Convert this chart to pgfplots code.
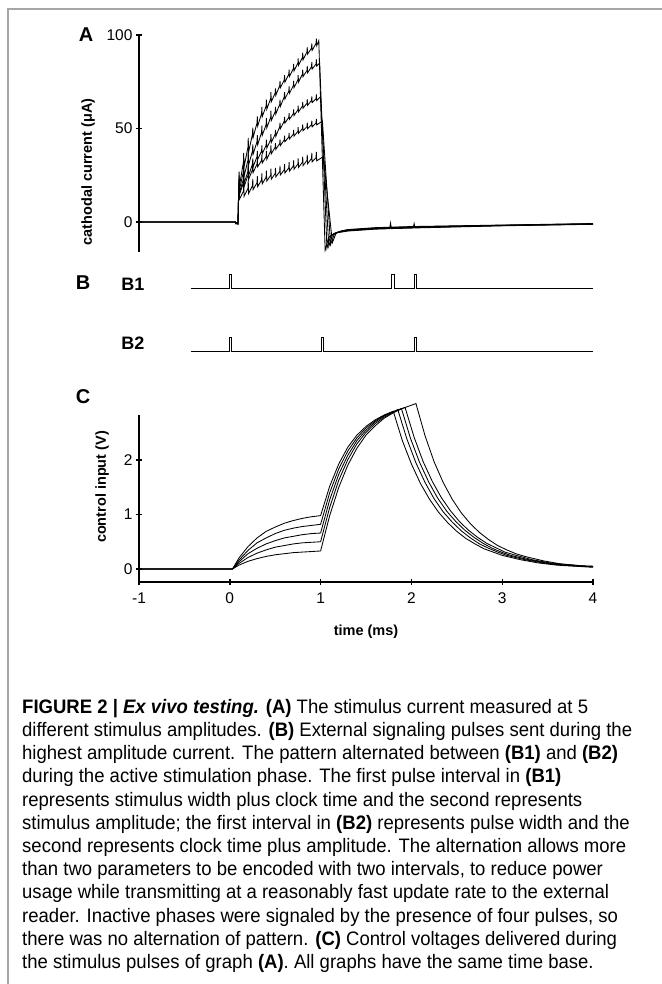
\documentclass[border=0pt]{standalone}
\usepackage{fontspec}
\setmainfont{Liberation Sans}
\newfontfamily\capfont[FakeStretch=0.95]{Liberation Sans}
\usepackage{pgfplots}
\pgfplotsset{compat=1.18}

\pgfplotsset{
  panel/.style={scale only axis, width=454bp, xmin=-1, xmax=4, clip=false,
    tick align=outside, major tick length=6bp,
    every tick/.style={black, line width=1.4bp},
    tick label style={font=\fontsize{15.5bp}{15.5bp}\selectfont},
    /pgf/number format/assume math mode=true},
  plainline/.style={axis line style={-, line width=1.8bp}},
  trace/.style={black, line width=0.85bp},
}

\begin{document}
\begin{tikzpicture}
\path[use as bounding box] (0,0) rectangle (662bp,984bp);
% frame of the figure
\draw[gray!70, line width=1.1bp] (8bp,0) -- (8bp,975bp) -- (662bp,975bp);

% ---- A: cathodal current
\begin{axis}[panel, at={(139bp,732bp)}, anchor=south west, height=217bp,
    ymin=-16, ymax=100, axis x line=none, axis y line=left, plainline,
    ytick={0,50,100}]
  \addplot[trace] coordinates {
    (-1,0)(0.06,0)(0.065,-1)(0.09,-1)(0.097,17)
    (0.100,22)(0.103,27)(0.107,19.5)(0.150,32)(0.153,37)(0.157,29.5)(0.200,40)(0.203,45)(0.207,37.5)
    (0.250,47)(0.253,50.5)(0.257,45.3)(0.300,53)(0.303,56.5)(0.307,51.3)(0.350,58)(0.353,61.5)(0.357,56.3)
    (0.400,62)(0.403,65.5)(0.407,60.3)(0.450,66)(0.453,69.5)(0.457,64.3)(0.500,69)(0.503,71.5)(0.507,67.8)
    (0.550,73)(0.553,75.5)(0.557,71.8)(0.600,76)(0.603,78.5)(0.607,74.8)(0.650,79)(0.653,81.5)(0.657,77.8)
    (0.700,82)(0.703,84.5)(0.707,80.8)(0.750,85)(0.753,87.5)(0.757,83.8)(0.800,88)(0.803,90.5)(0.807,86.8)
    (0.850,91)(0.853,93.5)(0.857,89.8)(0.900,93)(0.903,95.5)(0.907,91.8)(0.950,95.5)(0.953,98)(0.957,94.3)
    (0.98,97)
    (1.05,-15)(1.09,-8)(1.15,-6)(1.3,-4.8)(1.6,-3.8)(1.76,-3.55)(1.77,-0.5)(1.78,-3.5)
    (2.02,-3.2)(2.03,-0.8)(2.04,-3.15)(2.5,-2.6)(3,-2)(3.5,-1.6)(4,-1.2)};
  \addplot[trace] coordinates {
    (-1,0)(0.06,0)(0.09,-1)(0.097,16)
    (0.100,20)(0.103,25)(0.107,17.5)(0.150,27)(0.153,32)(0.157,24.5)(0.200,33)(0.203,38)(0.207,30.5)
    (0.250,38)(0.253,41.5)(0.257,36.3)(0.300,43)(0.303,46.5)(0.307,41.3)(0.350,48)(0.353,51.5)(0.357,46.3)
    (0.400,52)(0.403,55.5)(0.407,50.3)(0.450,56)(0.453,59.5)(0.457,54.3)(0.500,59)(0.503,61.5)(0.507,57.8)
    (0.550,63)(0.553,65.5)(0.557,61.8)(0.600,67)(0.603,69.5)(0.607,65.8)(0.650,70)(0.653,72.5)(0.657,68.8)
    (0.700,73)(0.703,75.5)(0.707,71.8)(0.750,76)(0.753,78.5)(0.757,74.8)(0.800,79)(0.803,81.5)(0.807,77.8)
    (0.850,81)(0.853,83.5)(0.857,79.8)(0.900,83)(0.903,85.5)(0.907,81.8)(0.950,84.5)(0.953,87)(0.957,83.3)
    (0.99,85)
    (1.07,-14)(1.11,-7.5)(1.17,-5.6)(1.3,-4.6)(1.6,-3.6)(2,-3)(2.5,-2.4)(3,-1.9)(3.5,-1.5)(4,-1.1)};
  \addplot[trace] coordinates {
    (-1,0)(0.06,0)(0.09,-1)(0.097,15)
    (0.100,18)(0.103,22.5)(0.107,15.8)(0.150,23)(0.153,27.5)(0.157,20.8)(0.200,27)(0.203,31.5)(0.207,24.8)
    (0.250,31)(0.253,34)(0.257,29.5)(0.300,35)(0.303,38)(0.307,33.5)(0.350,38)(0.353,41)(0.357,36.5)
    (0.400,41)(0.403,44)(0.407,39.5)(0.450,44)(0.453,47)(0.457,42.5)(0.500,47)(0.503,49.2)(0.507,45.9)
    (0.550,51)(0.553,53.2)(0.557,49.9)(0.600,54)(0.603,56.2)(0.607,52.9)(0.650,56)(0.653,58.2)(0.657,54.9)
    (0.700,58)(0.703,60.2)(0.707,56.9)(0.750,60)(0.753,62.2)(0.757,58.9)(0.800,62)(0.803,64.2)(0.807,60.9)
    (0.850,63.5)(0.853,65.7)(0.857,62.4)(0.900,65)(0.903,67.2)(0.907,63.9)(0.950,66)(0.953,68.2)(0.957,64.9)
    (1.00,67)
    (1.09,-13)(1.13,-7)(1.19,-5.3)(1.3,-4.4)(1.6,-3.4)(2,-2.8)(2.5,-2.3)(3,-1.8)(3.5,-1.4)(4,-1.0)};
  \addplot[trace] coordinates {
    (-1,0)(0.06,0)(0.09,-1)(0.097,14)
    (0.100,17)(0.103,21.5)(0.107,14.8)(0.150,21)(0.153,25.5)(0.157,18.8)(0.200,25)(0.203,29.5)(0.207,22.8)
    (0.250,28)(0.253,31)(0.257,26.5)(0.300,31)(0.303,34)(0.307,29.5)(0.350,33)(0.353,36)(0.357,31.5)
    (0.400,35)(0.403,38)(0.407,33.5)(0.450,38)(0.453,41)(0.457,36.5)(0.500,40)(0.503,42.2)(0.507,38.9)
    (0.550,42)(0.553,44.2)(0.557,40.9)(0.600,44)(0.603,46.2)(0.607,42.9)(0.650,45.5)(0.653,47.7)(0.657,44.4)
    (0.700,47)(0.703,49.2)(0.707,45.9)(0.750,48.5)(0.753,50.7)(0.757,47.4)(0.800,50)(0.803,52.2)(0.807,48.9)
    (0.850,51)(0.853,53.2)(0.857,49.9)(0.900,52)(0.903,54.2)(0.907,50.9)(0.950,53)(0.953,55.2)(0.957,51.9)
    (1.02,54)
    (1.11,-12)(1.15,-6.5)(1.21,-5)(1.3,-4.2)(1.6,-3.2)(2,-2.6)(2.5,-2.1)(3,-1.7)(3.5,-1.3)(4,-0.9)};
  \addplot[trace] coordinates {
    (-1,0)(0.06,0)(0.09,-1)(0.097,12)
    (0.100,15)(0.103,19.5)(0.107,12.3)(0.150,16.5)(0.153,21)(0.157,13.8)(0.200,18)(0.203,22.5)(0.207,15.3)
    (0.250,19.5)(0.253,23)(0.257,17.4)(0.300,21)(0.303,24.5)(0.307,18.9)(0.350,22.5)(0.353,26)(0.357,20.4)
    (0.400,24)(0.403,27.5)(0.407,21.9)(0.450,25)(0.453,28.5)(0.457,22.9)(0.500,26)(0.503,29)(0.507,24.2)
    (0.550,27)(0.553,30)(0.557,25.2)(0.600,28)(0.603,31)(0.607,26.2)(0.650,29)(0.653,32)(0.657,27.2)
    (0.700,30)(0.703,33)(0.707,28.2)(0.750,31)(0.753,34)(0.757,29.2)(0.800,32)(0.803,35)(0.807,30.2)
    (0.850,33)(0.853,36)(0.857,31.2)(0.900,34)(0.903,37)(0.907,32.2)(0.950,34.5)(0.953,37.5)(0.957,32.7)
    (1.03,35)
    (1.13,-11)(1.17,-6)(1.23,-4.7)(1.3,-4)(1.6,-3)(2,-2.4)(2.5,-2)(3,-1.6)(3.5,-1.2)(4,-0.8)};
\end{axis}

% ---- B: signalling pulses (B1 baseline at 63, B2 baseline at 0)
\begin{axis}[scale only axis, width=454bp, height=77bp, at={(139bp,632bp)}, anchor=south west,
    xmin=-1, xmax=4, ymin=0, ymax=77, axis lines=none, clip=false]
  \addplot[trace, line width=1bp] coordinates {
    (-0.43,63)(-0.005,63)(-0.005,77)(0.022,77)(0.022,63)
    (1.785,63)(1.785,77)(1.81,77)(1.81,63)
    (2.035,63)(2.035,77)(2.06,77)(2.06,63)(4,63)};
  \addplot[trace, line width=1bp] coordinates {
    (-0.43,0)(-0.005,0)(-0.005,14)(0.022,14)(0.022,0)
    (1.005,0)(1.005,14)(1.03,14)(1.03,0)
    (2.035,0)(2.035,14)(2.06,14)(2.06,0)(4,0)};
\end{axis}

% ---- C: control input
\begin{axis}[panel, at={(139bp,402bp)}, anchor=south west, height=167bp,
    ymin=-0.24, ymax=2.83, axis lines=left, plainline,
    xtick={-1,0,1,2,3,4}, ytick={0,1,2},
    xticklabel style={yshift=-4bp}]
  \addplot[trace] coordinates {
    (-1,0)(0.03,0)(0.1,0.20)(0.2,0.41)(0.3,0.57)(0.4,0.69)(0.5,0.77)(0.6,0.84)(0.7,0.89)(0.8,0.93)(0.9,0.96)(1.0,0.98)
    (1.1,1.52)(1.2,1.93)(1.3,2.24)(1.4,2.46)(1.5,2.62)(1.6,2.74)(1.7,2.83)(1.8,2.90)
    (1.9,2.36)(2.0,1.93)(2.1,1.57)(2.2,1.28)(2.3,1.04)(2.4,0.85)(2.5,0.69)(2.6,0.56)(2.7,0.46)
    (2.8,0.37)(2.9,0.31)(3.0,0.25)(3.2,0.17)(3.4,0.11)(3.6,0.07)(3.8,0.05)(4.0,0.03)};
  \addplot[trace] coordinates {
    (-1,0)(0.03,0)(0.1,0.16)(0.2,0.34)(0.3,0.48)(0.4,0.57)(0.5,0.65)(0.6,0.71)(0.7,0.75)(0.8,0.78)(0.9,0.80)(1.0,0.82)
    (1.1,1.40)(1.2,1.84)(1.3,2.17)(1.4,2.41)(1.5,2.59)(1.6,2.72)(1.7,2.82)(1.8,2.89)(1.85,2.93)
    (1.95,2.39)(2.05,1.95)(2.15,1.59)(2.25,1.29)(2.35,1.05)(2.45,0.86)(2.55,0.70)(2.65,0.57)(2.75,0.46)
    (2.85,0.38)(2.95,0.31)(3.05,0.25)(3.25,0.17)(3.45,0.11)(3.65,0.07)(3.85,0.05)(4.0,0.04)};
  \addplot[trace] coordinates {
    (-1,0)(0.03,0)(0.1,0.13)(0.2,0.28)(0.3,0.38)(0.4,0.46)(0.5,0.52)(0.6,0.57)(0.7,0.60)(0.8,0.63)(0.9,0.65)(1.0,0.66)
    (1.1,1.27)(1.2,1.74)(1.3,2.09)(1.4,2.36)(1.5,2.55)(1.6,2.70)(1.7,2.81)(1.8,2.89)(1.89,2.95)
    (1.99,2.40)(2.09,1.96)(2.19,1.60)(2.29,1.30)(2.39,1.06)(2.49,0.87)(2.59,0.71)(2.69,0.58)(2.79,0.47)
    (2.89,0.38)(2.99,0.31)(3.09,0.25)(3.29,0.17)(3.49,0.11)(3.69,0.07)(3.89,0.05)(4.0,0.04)};
  \addplot[trace] coordinates {
    (-1,0)(0.03,0)(0.1,0.10)(0.2,0.21)(0.3,0.29)(0.4,0.35)(0.5,0.40)(0.6,0.43)(0.7,0.46)(0.8,0.48)(0.9,0.49)(1.0,0.50)
    (1.1,1.13)(1.2,1.63)(1.3,2.01)(1.4,2.30)(1.5,2.51)(1.6,2.67)(1.7,2.79)(1.8,2.88)(1.93,2.97)
    (2.03,2.42)(2.13,1.97)(2.23,1.61)(2.33,1.31)(2.43,1.07)(2.53,0.87)(2.63,0.71)(2.73,0.58)(2.83,0.47)
    (2.93,0.39)(3.03,0.31)(3.13,0.26)(3.33,0.17)(3.53,0.11)(3.73,0.08)(3.93,0.05)(4.0,0.05)};
  \addplot[trace] coordinates {
    (-1,0)(0.03,0)(0.1,0.07)(0.2,0.14)(0.3,0.19)(0.4,0.23)(0.5,0.26)(0.6,0.28)(0.7,0.30)(0.8,0.31)(0.9,0.32)(1.0,0.33)
    (1.1,0.98)(1.2,1.50)(1.3,1.91)(1.4,2.22)(1.5,2.46)(1.6,2.63)(1.7,2.77)(1.8,2.87)(1.9,2.95)(2.0,3.01)(2.05,3.04)
    (2.15,2.45)(2.25,1.97)(2.35,1.59)(2.45,1.28)(2.55,1.03)(2.65,0.83)(2.75,0.67)(2.85,0.54)
    (2.95,0.43)(3.05,0.35)(3.15,0.28)(3.25,0.23)(3.45,0.15)(3.65,0.09)(3.85,0.06)(4.0,0.05)};
\end{axis}

% ---- panel letters and axis titles
\node[font=\bfseries\fontsize{20bp}{20bp}\selectfont] at (86bp,949bp) {A};
\node[font=\bfseries\fontsize{20bp}{20bp}\selectfont] at (83bp,701bp) {B};
\node[font=\bfseries\fontsize{18bp}{18bp}\selectfont] at (133bp,700bp) {B1};
\node[font=\bfseries\fontsize{18bp}{18bp}\selectfont] at (133bp,641bp) {B2};
\node[font=\bfseries\fontsize{20bp}{20bp}\selectfont] at (83bp,587bp) {C};
\node[font=\bfseries\fontsize{14.5bp}{14.5bp}\selectfont, rotate=90] at (88bp,812bp) {cathodal current (μA)};
\node[font=\bfseries\fontsize{14.5bp}{14.5bp}\selectfont, rotate=90] at (102bp,497bp) {control input (V)};
\node[font=\bfseries\fontsize{14.5bp}{14.5bp}\selectfont] at (366bp,352bp) {time (ms)};

% ---- caption
\node[anchor=north west, align=left, inner sep=0pt,
      font=\capfont\fontsize{19.5bp}{23.2bp}\selectfont] at (22bp,285bp) {%
\textbf{FIGURE 2 | \textit{Ex vivo testing.} (A)} The stimulus current measured at 5\\
different stimulus amplitudes. \textbf{(B)} External signaling pulses sent during the\\
highest amplitude current. The pattern alternated between \textbf{(B1)} and \textbf{(B2)}\\
during the active stimulation phase. The first pulse interval in \textbf{(B1)}\\
represents stimulus width plus clock time and the second represents\\
stimulus amplitude; the first interval in \textbf{(B2)} represents pulse width and the\\
second represents clock time plus amplitude. The alternation allows more\\
than two parameters to be encoded with two intervals, to reduce power\\
usage while transmitting at a reasonably fast update rate to the external\\
reader. Inactive phases were signaled by the presence of four pulses, so\\
there was no alternation of pattern. \textbf{(C)} Control voltages delivered during\\
the stimulus pulses of graph \textbf{(A)}. All graphs have the same time base.};
\end{tikzpicture}
\end{document}
